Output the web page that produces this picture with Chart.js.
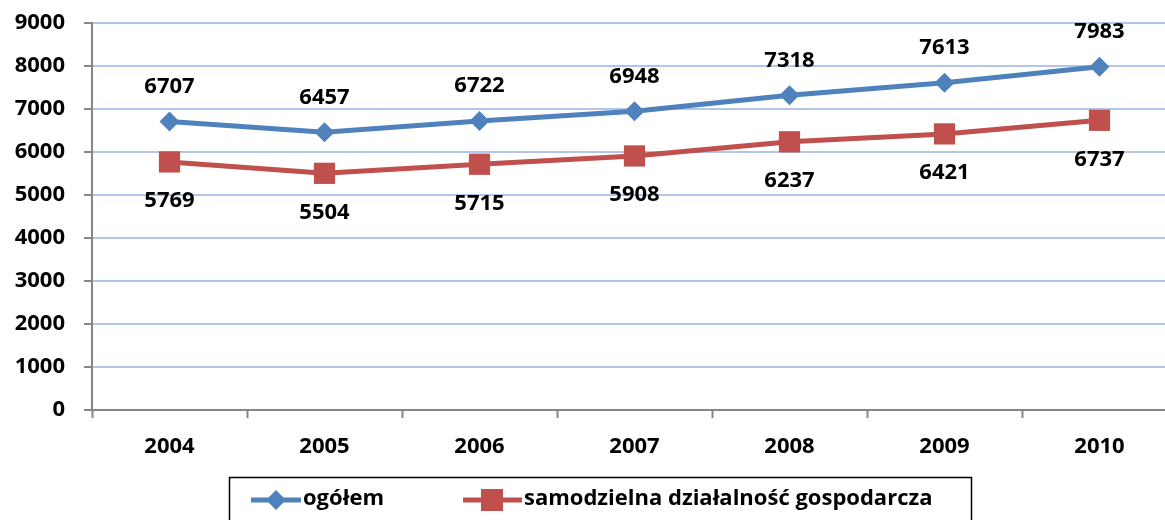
<!DOCTYPE html>
<html>
<head>
<meta charset="utf-8">
<script src="https://cdn.jsdelivr.net/npm/chart.js@4"></script>
<style>
  html, body { margin: 0; padding: 0; background: #fff; overflow: hidden; }
  #wrap { width: 1180px; height: 520px; }
</style>
</head>
<body>
<div id="wrap"><canvas id="chart" width="1180" height="520"></canvas></div>
<script>
// chart data
const years = ['2004', '2005', '2006', '2007', '2008', '2009', '2010'];
const ogolem = [6707, 6457, 6722, 6948, 7318, 7613, 7983];
const samodzielna = [5769, 5504, 5715, 5908, 6237, 6421, 6737];
const yTicks = [0, 1000, 2000, 3000, 4000, 5000, 6000, 7000, 8000, 9000];

const BLUE = '#4f81bd';
const RED = '#c0504d';
const FONT = '"Open Sans", Lato, sans-serif';

// values above / below the points
const valueLabels = {
    id: 'valueLabels',
    afterDatasetsDraw(chart) {
        const ctx = chart.ctx;
        ctx.save();
        ctx.font = 'bold 22px ' + FONT;
        ctx.fillStyle = '#000';
        ctx.textAlign = 'center';
        ctx.textBaseline = 'middle';
        chart.data.datasets.forEach((ds, i) => {
            const meta = chart.getDatasetMeta(i);
            const offset = i === 0 ? -35 : 39;
            meta.data.forEach((pt, j) => {
                ctx.fillText(String(ds.data[j]), pt.x, pt.y + offset);
            });
        });
        ctx.restore();
    }
};

// boxed legend at the bottom
const boxLegend = {
    id: 'boxLegend',
    afterDraw(chart) {
        const ctx = chart.ctx;
        ctx.save();
        ctx.strokeStyle = '#000';
        ctx.lineWidth = 1.5;
        ctx.strokeRect(229.5, 477.5, 742, 60);

        const y = 500;
        ctx.lineWidth = 5;
        ctx.strokeStyle = BLUE;
        ctx.beginPath();
        ctx.moveTo(251, y);
        ctx.lineTo(301, y);
        ctx.stroke();
        ctx.fillStyle = BLUE;
        ctx.beginPath();
        ctx.moveTo(276 - 10, y);
        ctx.lineTo(276, y - 10);
        ctx.lineTo(276 + 10, y);
        ctx.lineTo(276, y + 10);
        ctx.closePath();
        ctx.fill();

        ctx.strokeStyle = RED;
        ctx.beginPath();
        ctx.moveTo(463, y);
        ctx.lineTo(522, y);
        ctx.stroke();
        ctx.fillStyle = RED;
        ctx.fillRect(481, y - 11, 22, 22);

        // fit the long label to its width in the reference
        const label2 = chart.data.datasets[1].label;
        ctx.font = 'bold 20px ' + FONT;
        const size = Math.min(22, 20 * 408 / ctx.measureText(label2).width);
        ctx.font = 'bold ' + size.toFixed(1) + 'px ' + FONT;
        ctx.fillStyle = '#000';
        ctx.textAlign = 'left';
        ctx.textBaseline = 'middle';
        ctx.fillText(chart.data.datasets[0].label, 303, y - 1);
        ctx.fillText(label2, 524, y - 1);
        ctx.restore();
    }
};

new Chart(document.getElementById('chart').getContext('2d'), {
    type: 'line',
    data: {
        labels: years,
        datasets: [{
            label: 'ogółem',
            data: ogolem,
            borderColor: BLUE,
            backgroundColor: BLUE,
            borderWidth: 5,
            pointStyle: 'rectRot',
            pointRadius: 10,
            pointBorderWidth: 0,
            tension: 0
        }, {
            label: 'samodzielna działalność gospodarcza',
            data: samodzielna,
            borderColor: RED,
            backgroundColor: RED,
            borderWidth: 5,
            pointStyle: 'rect',
            pointRadius: 15,
            pointBorderWidth: 0,
            tension: 0
        }]
    },
    options: {
        responsive: false,
        animation: false,
        layout: { autoPadding: false, padding: { top: 23, right: 3, left: 0, bottom: 0 } },
        plugins: {
            legend: { display: false },
            tooltip: { enabled: false }
        },
        scales: {
            x: {
                offset: true,
                grid: {
                    offset: true,
                    drawOnChartArea: false,
                    drawTicks: true,
                    tickLength: 8,
                    tickColor: '#868686',
                    tickWidth: 2
                },
                border: { color: '#868686', width: 2 },
                ticks: {
                    color: '#000',
                    font: { family: FONT, size: 22, weight: 'bold' },
                    padding: 16
                },
                afterFit(scale) { scale.height = 110; }
            },
            y: {
                min: 0,
                max: 9000,
                afterBuildTicks(scale) {
                    scale.ticks = yTicks.map(v => ({ value: v }));
                },
                grid: {
                    color: '#b4c6e7',
                    lineWidth: 2,
                    tickLength: 8,
                    tickColor: '#868686',
                    tickWidth: 2
                },
                border: { color: '#868686', width: 2 },
                ticks: {
                    color: '#000',
                    font: { family: FONT, size: 22, weight: 'bold' },
                    padding: 19,
                    callback: v => String(v)
                },
                afterFit(scale) {
                    scale.width = 92;
                    scale.paddingTop = 0;
                    scale.paddingBottom = 0;
                }
            }
        }
    },
    plugins: [valueLabels, boxLegend]
});
</script>
</body>
</html>
